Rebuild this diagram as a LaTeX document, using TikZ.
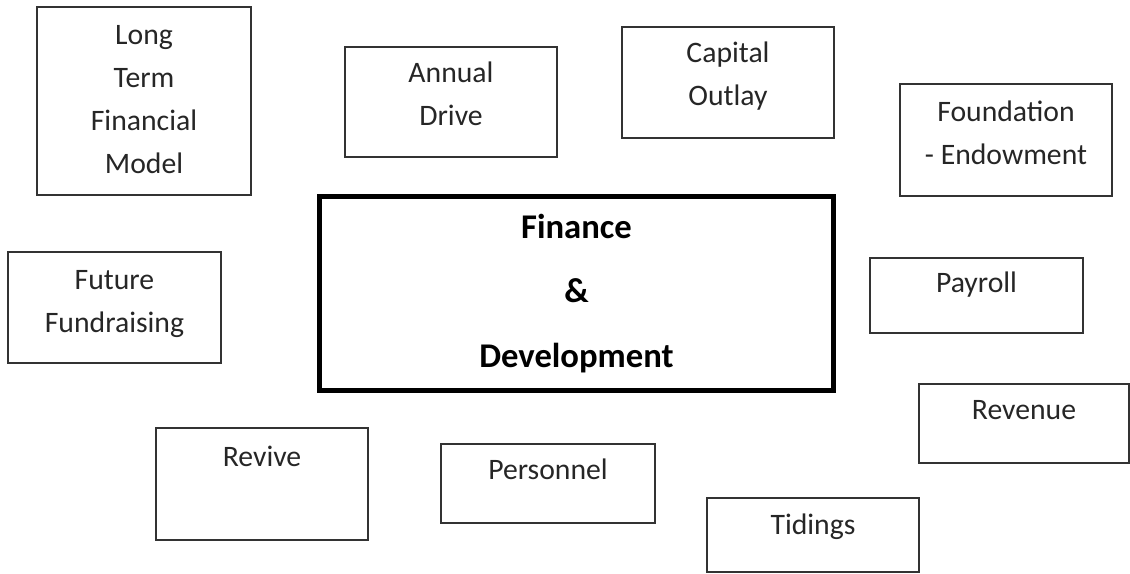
\documentclass[tikz,border=0pt]{standalone}
\usepackage{fontspec}
\setmainfont{Carlito}
\usetikzlibrary{calc,fit}
\newcommand{\stack}[1]{\begin{tabular}[t]{@{}c@{}}#1\end{tabular}}

\begin{document}
\begin{tikzpicture}[x=0.404pt,y=-0.404pt,
    tbox/.style={draw=black!80, line width=0.6pt, inner sep=0pt},
    mainbox/.style={draw=black, line width=2pt, inner sep=0pt},
    tlabel/.style={anchor=base, inner sep=0pt, text=black!85,
      font={\fontsize{12}{14.5}\selectfont\renewcommand{\arraystretch}{1.2}}},
    mainlabel/.style={anchor=base, inner sep=0pt, text=black,
      font={\fontsize{14}{16}\selectfont\bfseries\renewcommand{\arraystretch}{1.64}}}]
  \useasboundingbox (0,0) rectangle (1130,573);
  % centre
  \node[mainbox, fit={(319.5,196.5) (833.5,390.5)}] (fd) {};
  \node[mainlabel] (fdtxt) at ($(fd.north)+(0,44)$) {\stack{Finance\\\&\\Development}};
  % top row
  \node[tbox, fit={(37,7) (251,195)}] (ltfm) {};
  \node[tlabel] (ltfmtxt) at ($(ltfm.north)+(0,38)$) {\stack{Long\\Term\\Financial\\Model}};
  \node[tbox, fit={(345,47) (557,157)}] (annual) {};
  \node[tlabel] (annualtxt) at ($(annual.north)+(0,36)$) {\stack{Annual\\Drive}};
  \node[tbox, fit={(622,27) (834,138)}] (capital) {};
  \node[tlabel] (capitaltxt) at ($(capital.north)+(0,36)$) {\stack{Capital\\Outlay}};
  \node[tbox, fit={(900,84) (1112,196)}] (found) {};
  \node[tlabel] (foundtxt) at ($(found.north)+(0,38)$) {\stack{Foundation\\- Endowment}};
  % sides
  \node[tbox, fit={(8,252) (221,363)}] (future) {};
  \node[tlabel] (futuretxt) at ($(future.north)+(0,38)$) {\stack{Future\\Fundraising}};
  \node[tbox, fit={(870,258) (1083,333)}] (payroll) {};
  \node[tlabel] (payrolltxt) at ($(payroll.north)+(0,35)$) {Payroll};
  \node[tbox, fit={(919,384) (1129,463)}] (revenue) {};
  \node[tlabel] (revenuetxt) at ($(revenue.north)+(0,36)$) {Revenue};
  % bottom row
  \node[tbox, fit={(156,428) (368,540)}] (revive) {};
  \node[tlabel] (revivetxt) at ($(revive.north)+(0,39)$) {Revive};
  \node[tbox, fit={(441,444) (655,523)}] (personnel) {};
  \node[tlabel] (personneltxt) at ($(personnel.north)+(0,36)$) {Personnel};
  \node[tbox, fit={(707,498) (919,572)}] (tidings) {};
  \node[tlabel] (tidingstxt) at ($(tidings.north)+(0,37)$) {Tidings};
\end{tikzpicture}
\end{document}
